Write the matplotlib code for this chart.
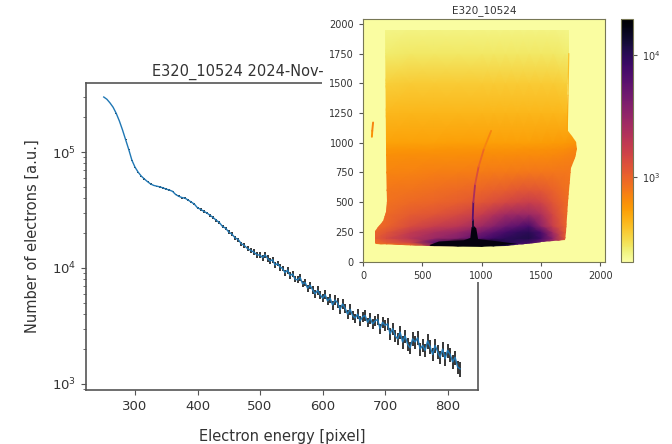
import numpy as np
import matplotlib
matplotlib.use("Agg")
import matplotlib.pyplot as plt
from matplotlib.collections import LineCollection
from matplotlib.colors import LogNorm
from matplotlib.patches import Polygon, Rectangle

W, H = 672, 444

# spectrum
pixel = list(range(250, 500, 5)) + list(range(500, 824, 4))
electrons = [298000, 285000, 265000, 243000, 215000, 185000, 155000, 128000, 105000, 85000,
             74000, 67000, 62000, 58500, 55500, 53000, 51500, 50800, 50000, 49000,
             47800, 47000, 45800, 43000, 41500, 40500, 40000, 38500, 37000, 35500,
             33000, 32000, 30800, 29800, 28500, 27200, 25800, 24600, 22800, 22000,
             20400, 19600, 18200, 17600, 16200, 15600, 14700, 14200, 13700, 13000,
             12900, 12300, 13000, 12100, 11500, 11800, 10600, 10900, 10200, 9900,
             9100, 9600, 8600, 8900, 8000, 7900, 8300, 7300, 7500, 6700,
             7100, 6500, 6000, 6400, 5900, 5500, 5900, 5200, 5500, 4800,
             5300, 5000, 4400, 4900, 4500, 4000, 4400, 3900, 3700, 4000,
             3500, 3800, 3900, 3400, 3700, 3300, 3500, 3600, 3000, 3400,
             3200, 3300, 2700, 3000, 2600, 2450, 2800, 2300, 2600, 2200,
             2050, 2450, 2300, 2500, 2000, 2150, 1950, 2350, 2100, 1800,
             2150, 1900, 1700, 2000, 1650, 1950, 1800, 1550, 1700, 1400, 1350]
errors = [900, 800, 800, 800, 800, 700, 700, 700, 600, 600,
          600, 600, 600, 600, 600, 600, 600, 600, 600, 700,
          700, 700, 700, 700, 700, 800, 800, 800, 800, 800,
          850, 850, 850, 800, 800, 800, 800, 750, 750, 700,
          700, 700, 700, 700, 700, 750, 750, 750, 750, 750,
          800, 700, 850, 750, 650, 750, 700, 600, 700, 550, 600,
          650, 550, 600, 500, 550, 550, 450, 500, 450, 500,
          500, 450, 550, 470, 420, 500, 450, 480, 420, 500,
          470, 380, 470, 420, 360, 450, 370, 340, 400, 340,
          380, 420, 320, 380, 320, 360, 390, 300, 370, 340,
          400, 310, 380, 300, 290, 360, 280, 340, 280, 250,
          340, 300, 350, 250, 280, 240, 330, 280, 230, 300,
          250, 220, 290, 220, 280, 240, 210, 240, 190, 210]

# heatmap grid, counts at the grid nodes
grid_x = [100, 200, 400, 600, 800, 1000, 1100, 1200, 1300, 1400, 1500, 1600, 1700, 1800]
grid_y = [130, 160, 200, 250, 300, 400, 500, 600, 750, 900, 950, 1000, 1250, 1500, 1750, 2000]
counts = [
    [700, 700, 800, 2500, 19000, 19000, 16000, 12000, 7000, 4000, 2500, 1500, 1000, 1000],
    [900, 1100, 1500, 6000, 17000, 19000, 15000, 11000, 9000, 8000, 5000, 2500, 1200, 1000],
    [1100, 1400, 2100, 2900, 3800, 6500, 8000, 9500, 10500, 11000, 8000, 3500, 1200, 1000],
    [1000, 1200, 1800, 2400, 3000, 4500, 5800, 7500, 9000, 10000, 7000, 2600, 1150, 1000],
    [900, 1000, 1350, 1700, 2000, 2800, 3600, 4800, 5800, 7200, 3400, 1700, 1050, 950],
    [800, 930, 1100, 1200, 1400, 1750, 2150, 2700, 2900, 2900, 2300, 1450, 1000, 900],
    [820, 850, 920, 980, 1060, 1200, 1300, 1450, 1600, 1700, 1550, 1200, 950, 880],
    [770, 800, 840, 880, 920, 980, 1030, 1080, 1150, 1200, 1150, 1020, 880, 820],
    [680, 700, 710, 730, 750, 760, 770, 780, 790, 800, 800, 800, 800, 800],
    [600, 610, 620, 620, 630, 640, 640, 640, 645, 650, 650, 660, 680, 720],
    [560, 570, 580, 580, 590, 590, 590, 590, 595, 600, 600, 610, 630, 680],
    [510, 510, 520, 520, 530, 530, 530, 530, 530, 530, 540, 550, 560, 590],
    [420, 420, 430, 430, 430, 430, 430, 430, 430, 430, 430, 430, 420, 410],
    [340, 340, 350, 350, 350, 350, 350, 350, 350, 350, 350, 350, 340, 330],
    [260, 260, 270, 270, 270, 270, 270, 270, 270, 270, 270, 270, 260, 250],
    [225, 225, 230, 230, 230, 230, 230, 230, 230, 230, 230, 230, 225, 220],
]
background = 205

# outline of the screen
screen_x = [186, 195, 200, 195, 170, 130, 100, 100, 110, 550, 1000, 1200, 1450, 1500, 1600, 1700,
            1713, 1725, 1750, 1785, 1800, 1795, 1760, 1725, 1722, 1735, 1733]
screen_y = [1944, 1000, 500, 420, 340, 290, 255, 160, 145, 130, 125, 135, 155, 165, 170, 180,
            250, 500, 790, 870, 950, 1010, 1060, 1100, 1400, 1750, 1944]

# black blob at the bottom of the streak
blob_x = [560, 640, 850, 905, 915, 935, 955, 970, 1100, 1300, 1100, 960, 800, 570]
blob_y = [140, 170, 180, 200, 290, 300, 280, 190, 175, 150, 135, 128, 130, 132]

# thin streak going up from the blob
streak_x = [925, 925, 930, 945, 975, 1020, 1080]
streak_y = [290, 350, 500, 650, 800, 950, 1100]
streak_level = [13000, 6000, 2400, 1300, 950, 700, 560]

spot_x = [75, 78, 85]
spot_y = [1050, 1100, 1170]
spot_level = [600, 700, 500]

rim_x = [1722, 1728, 1735]
rim_y = [1100, 1400, 1750]
rim_level = [500, 400, 300]


def axes_px(fig, left, top, right, bottom):
    return fig.add_axes([left / W, 1 - bottom / H, (right - left) / W, (bottom - top) / H])


def coloured_line(ax, x, y, level, cmap, norm, width):
    pts = np.column_stack([x, y])
    segs = np.stack([pts[:-1], pts[1:]], axis=1)
    lc = LineCollection(segs, cmap=cmap, norm=norm, linewidths=width, capstyle="round")
    lc.set_array(np.array(level[:-1]))
    ax.add_collection(lc)


plt.rcParams["text.color"] = "#333333"
plt.rcParams["axes.labelcolor"] = "#333333"
plt.rcParams["xtick.labelcolor"] = "#333333"
plt.rcParams["ytick.labelcolor"] = "#333333"

fig = plt.figure(figsize=(W / 100, H / 100), dpi=100)

# main spectrum
ax = axes_px(fig, 86, 83, 478, 390)
ax.errorbar(pixel, electrons, yerr=errors, color="C0", ecolor="black", elinewidth=1.1, linewidth=1)
ax.set_yscale("log")
ax.set_xlim(221.6, 848.6)
ax.set_ylim(10 ** 2.948, 10 ** 5.595)
ax.set_xticks([300, 400, 500, 600, 700, 800])
ax.tick_params(labelsize=9.5, color="#555555")
ax.tick_params(which="minor", color="#555555")
ax.set_xlabel("Electron energy [pixel]", fontsize=10.5, labelpad=12)
ax.set_ylabel("Number of electrons [a.u.]", fontsize=10.5, labelpad=9)
for s in ax.spines.values():
    s.set_color("#555555")
    s.set_linewidth(1.2)
fig.text(152 / W, 1 - 76 / H, "E320_10524 2024-Nov-", fontsize=10.5, ha="left", va="baseline")

# white block the inset sits on
fig.add_artist(Rectangle((322 / W, 1 - 282 / H), 350 / W, 282 / H, transform=fig.transFigure,
                         facecolor="white", edgecolor="none", zorder=1))

# heatmap inset
cmap = plt.get_cmap("inferno_r")
norm = LogNorm(vmin=200, vmax=19800)
ax2 = axes_px(fig, 363, 19, 605, 261.7)
ax2.set_zorder(2)
ax2.set_facecolor(cmap(norm(background)))
mesh = ax2.pcolormesh(grid_x, grid_y, np.array(counts), cmap=cmap, norm=norm, shading="gouraud")
clip = Polygon(np.column_stack([screen_x, screen_y]), closed=True, transform=ax2.transData)
mesh.set_clip_path(clip)
ax2.fill(blob_x, blob_y, color="#05020f", linewidth=0)
coloured_line(ax2, streak_x, streak_y, streak_level, cmap, norm, 1.3)
coloured_line(ax2, spot_x, spot_y, spot_level, cmap, norm, 1.4)
coloured_line(ax2, rim_x, rim_y, rim_level, cmap, norm, 0.8)
ax2.set_xlim(0, 2040)
ax2.set_ylim(0, 2040)
ax2.set_xticks([0, 500, 1000, 1500, 2000])
ax2.set_yticks([0, 250, 500, 750, 1000, 1250, 1500, 1750, 2000])
ax2.tick_params(labelsize=7, length=3, color="#555555")
ax2.set_title("E320_10524", fontsize=7.5, pad=4)
for s in ax2.spines.values():
    s.set_color("#777755")

cax = axes_px(fig, 621, 19, 633.3, 261.7)
cax.set_zorder(2)
cb = fig.colorbar(mesh, cax=cax)
cb.set_ticks([1000, 10000])
cb.ax.minorticks_off()
cb.ax.tick_params(labelsize=7, length=3, color="#555555")
cb.outline.set_edgecolor("#777755")

fig.savefig("out.png", dpi=100)
